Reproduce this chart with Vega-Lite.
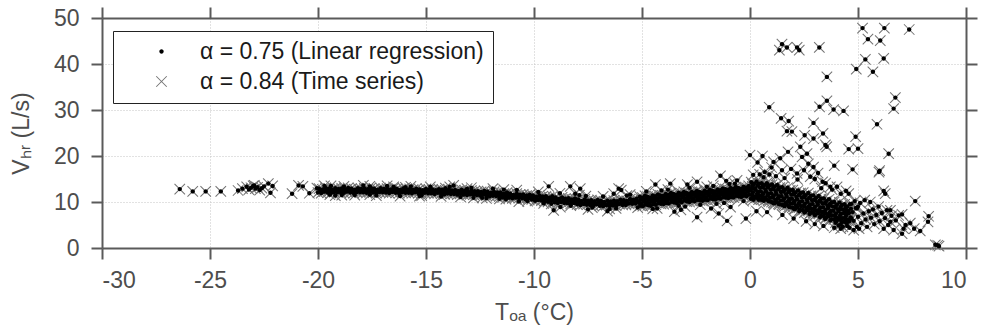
{
  "$schema": "https://vega.github.io/schema/vega-lite/v6.json",
  "width": 864,
  "height": 230,
  "autosize": "none",
  "padding": {"left": 102, "top": 18, "right": 16, "bottom": 87},
  "background": "white",
  "config": {
    "view": {"stroke": null},
    "font": "Liberation Sans",
    "axis": {
      "labelFont": "Liberation Sans", "labelFontSize": 23, "labelColor": "#4d4d4d",
      "titleFont": "Liberation Sans", "titleFontSize": 23, "titleColor": "#4d4d4d", "titleFontWeight": "normal",
      "domainColor": "#5a5a5a", "domainWidth": 2, "tickColor": "#5a5a5a", "tickWidth": 2, "tickSize": 11,
      "gridColor": "#c4c4c4", "gridDash": [1, 2], "gridWidth": 1
    },
    "legend": {
      "orient": "none", "legendX": 11, "legendY": 13,
      "labelFont": "Liberation Sans", "labelFontSize": 23, "labelColor": "#1a1a1a", "labelLimit": 0,
      "strokeColor": "#222", "fillColor": "white", "padding": 9, "rowPadding": 6,
      "symbolOffset": 28, "labelOffset": 27, "symbolStrokeWidth": 0, "symbolSize": 110
    }
  },
  "data": {"values": [
    {"t":-26.4,"v":12.8},{"t":-25.8,"v":12.3},{"t":-25.2,"v":12.3},{"t":-24.5,"v":12.3},{"t":-23.7,"v":12.5},{"t":-23.5,"v":12.9},{"t":-23.3,"v":13.3},{"t":-23.2,"v":12.7},{"t":-23.1,"v":13.1},{"t":-23.0,"v":13.5},{"t":-22.9,"v":12.9},{"t":-22.8,"v":13.2},{"t":-22.7,"v":12.6},{"t":-22.95,"v":13.6},{"t":-22.6,"v":13.0},{"t":-22.5,"v":13.4},{"t":-22.3,"v":14.0},{"t":-22.2,"v":12.0},{"t":-22.1,"v":13.5},{"t":-21.2,"v":11.8},{"t":-20.9,"v":13.6},{"t":-20.7,"v":13.4},{"t":-20.4,"v":11.9},{"t":-20.05,"v":13.0},
    {"t":-19.95,"v":12.9},{"t":-19.89,"v":12.5},{"t":-20.0,"v":12.05},{"t":-19.8,"v":12.75},{"t":-19.74,"v":12.35},{"t":-19.85,"v":11.95},{"t":-19.65,"v":13.05},{"t":-19.59,"v":12.6},{"t":-19.7,"v":12.25},{"t":-19.5,"v":12.9},{"t":-19.44,"v":12.5},{"t":-19.55,"v":12.05},{"t":-19.35,"v":12.7},{"t":-19.29,"v":12.3},{"t":-19.4,"v":11.95},{"t":-19.2,"v":13.0},{"t":-19.14,"v":12.6},{"t":-19.25,"v":12.15},{"t":-19.05,"v":12.85},{"t":-18.99,"v":12.4},{"t":-19.1,"v":12.1},
    {"t":-18.9,"v":12.95},{"t":-18.84,"v":12.55},{"t":-18.95,"v":12.1},{"t":-18.75,"v":12.8},{"t":-18.69,"v":12.4},{"t":-18.8,"v":12.0},{"t":-18.6,"v":13.05},{"t":-18.54,"v":12.6},{"t":-18.65,"v":12.25},{"t":-18.45,"v":12.9},{"t":-18.39,"v":12.5},{"t":-18.5,"v":12.05},{"t":-18.3,"v":12.7},{"t":-18.24,"v":12.3},{"t":-18.35,"v":11.95},{"t":-18.15,"v":13.0},{"t":-18.09,"v":12.6},{"t":-18.2,"v":12.15},{"t":-18.0,"v":12.85},{"t":-17.94,"v":12.4},{"t":-18.05,"v":12.1},
    {"t":-17.85,"v":12.95},{"t":-17.79,"v":12.55},{"t":-17.9,"v":12.1},{"t":-17.7,"v":12.8},{"t":-17.64,"v":12.4},{"t":-17.75,"v":12.0},{"t":-17.55,"v":13.05},{"t":-17.49,"v":12.6},{"t":-17.6,"v":12.25},{"t":-17.4,"v":12.9},{"t":-17.34,"v":12.5},{"t":-17.45,"v":12.05},{"t":-17.25,"v":12.7},{"t":-17.19,"v":12.3},{"t":-17.3,"v":11.95},{"t":-17.1,"v":13.0},{"t":-17.04,"v":12.6},{"t":-17.15,"v":12.15},{"t":-16.95,"v":12.85},{"t":-16.89,"v":12.4},{"t":-17.0,"v":12.1},
    {"t":-16.8,"v":12.9},{"t":-16.74,"v":12.5},{"t":-16.85,"v":12.05},{"t":-16.65,"v":12.75},{"t":-16.59,"v":12.35},{"t":-16.7,"v":11.95},{"t":-16.5,"v":13.0},{"t":-16.44,"v":12.55},{"t":-16.55,"v":12.2},{"t":-16.35,"v":12.85},{"t":-16.29,"v":12.45},{"t":-16.4,"v":12.0},{"t":-16.2,"v":12.65},{"t":-16.14,"v":12.25},{"t":-16.25,"v":11.9},{"t":-16.05,"v":12.95},{"t":-15.99,"v":12.55},{"t":-16.1,"v":12.1},
    {"t":-15.9,"v":12.75},{"t":-15.84,"v":12.3},{"t":-15.95,"v":12.0},{"t":-15.75,"v":12.85},{"t":-15.69,"v":12.45},{"t":-15.8,"v":12.0},{"t":-15.6,"v":12.7},{"t":-15.54,"v":12.3},{"t":-15.65,"v":11.9},{"t":-15.45,"v":12.9},{"t":-15.39,"v":12.45},{"t":-15.5,"v":12.1},{"t":-15.3,"v":12.75},{"t":-15.24,"v":12.35},{"t":-15.35,"v":11.9},{"t":-15.15,"v":12.55},{"t":-15.09,"v":12.15},{"t":-15.2,"v":11.8},{"t":-15.0,"v":12.85},{"t":-14.94,"v":12.45},{"t":-15.05,"v":12.0},
    {"t":-14.85,"v":12.65},{"t":-14.79,"v":12.2},{"t":-14.9,"v":11.9},{"t":-14.7,"v":12.75},{"t":-14.64,"v":12.35},{"t":-14.75,"v":11.9},{"t":-14.55,"v":12.55},{"t":-14.49,"v":12.15},{"t":-14.6,"v":11.75},{"t":-14.4,"v":12.8},{"t":-14.34,"v":12.35},{"t":-14.45,"v":12.0},{"t":-14.25,"v":12.65},{"t":-14.19,"v":12.25},{"t":-14.3,"v":11.8},{"t":-14.1,"v":12.4},{"t":-14.04,"v":12.0},{"t":-14.15,"v":11.65},{"t":-13.95,"v":12.7},{"t":-13.89,"v":12.3},{"t":-14.0,"v":11.85},
    {"t":-13.8,"v":12.5},{"t":-13.74,"v":12.05},{"t":-13.85,"v":11.75},{"t":-13.65,"v":12.6},{"t":-13.59,"v":12.2},{"t":-13.7,"v":11.75},{"t":-13.5,"v":12.4},{"t":-13.44,"v":12.0},{"t":-13.55,"v":11.6},{"t":-13.35,"v":12.65},{"t":-13.29,"v":12.2},{"t":-13.4,"v":11.85},{"t":-13.2,"v":12.45},{"t":-13.14,"v":12.05},{"t":-13.25,"v":11.6},{"t":-13.05,"v":12.25},{"t":-12.99,"v":11.85},{"t":-13.1,"v":11.5},{"t":-12.9,"v":12.5},{"t":-12.84,"v":12.1},{"t":-12.95,"v":11.65},
    {"t":-12.75,"v":12.35},{"t":-12.69,"v":11.9},{"t":-12.8,"v":11.6},{"t":-12.6,"v":12.35},{"t":-12.54,"v":11.95},{"t":-12.65,"v":11.5},{"t":-12.45,"v":12.2},{"t":-12.39,"v":11.8},{"t":-12.5,"v":11.4},{"t":-12.3,"v":12.4},{"t":-12.24,"v":11.95},{"t":-12.35,"v":11.6},{"t":-12.15,"v":12.25},{"t":-12.09,"v":11.85},{"t":-12.2,"v":11.4},{"t":-12.0,"v":12.0},{"t":-11.94,"v":11.6},{"t":-12.05,"v":11.25},
    {"t":-11.85,"v":12.2},{"t":-11.79,"v":11.8},{"t":-11.9,"v":11.35},{"t":-11.7,"v":12.05},{"t":-11.64,"v":11.6},{"t":-11.75,"v":11.3},{"t":-11.55,"v":12.05},{"t":-11.49,"v":11.65},{"t":-11.6,"v":11.2},{"t":-11.4,"v":11.8},{"t":-11.34,"v":11.4},{"t":-11.45,"v":11.0},{"t":-11.25,"v":12.05},{"t":-11.19,"v":11.6},{"t":-11.3,"v":11.25},{"t":-11.1,"v":11.8},{"t":-11.04,"v":11.4},{"t":-11.15,"v":10.95},
    {"t":-10.95,"v":11.55},{"t":-10.89,"v":11.15},{"t":-11.0,"v":10.8},{"t":-10.8,"v":11.8},{"t":-10.74,"v":11.4},{"t":-10.85,"v":10.95},{"t":-10.65,"v":11.6},{"t":-10.59,"v":11.15},{"t":-10.7,"v":10.85},{"t":-10.5,"v":11.65},{"t":-10.44,"v":11.25},{"t":-10.55,"v":10.8},{"t":-10.35,"v":11.4},{"t":-10.29,"v":11.0},{"t":-10.4,"v":10.6},{"t":-10.2,"v":11.6},{"t":-10.14,"v":11.15},{"t":-10.25,"v":10.8},{"t":-10.05,"v":11.4},{"t":-9.99,"v":11.0},{"t":-10.1,"v":10.55},
    {"t":-9.9,"v":11.15},{"t":-9.84,"v":10.65},{"t":-9.95,"v":10.25},{"t":-9.75,"v":11.45},{"t":-9.69,"v":10.95},{"t":-9.8,"v":10.45},{"t":-9.6,"v":11.2},{"t":-9.54,"v":10.7},{"t":-9.65,"v":10.3},{"t":-9.45,"v":11.25},{"t":-9.39,"v":10.75},{"t":-9.5,"v":10.2},{"t":-9.3,"v":11.0},{"t":-9.24,"v":10.55},{"t":-9.35,"v":10.05},{"t":-9.15,"v":11.25},{"t":-9.09,"v":10.7},{"t":-9.2,"v":10.3},{"t":-9.0,"v":11.0},{"t":-8.94,"v":10.5},{"t":-9.05,"v":9.95},
    {"t":-8.85,"v":10.7},{"t":-8.79,"v":10.2},{"t":-8.9,"v":9.8},{"t":-8.7,"v":11.0},{"t":-8.64,"v":10.5},{"t":-8.75,"v":10.0},{"t":-8.55,"v":10.7},{"t":-8.49,"v":10.2},{"t":-8.6,"v":9.8},{"t":-8.4,"v":10.8},{"t":-8.34,"v":10.3},{"t":-8.45,"v":9.75},{"t":-8.25,"v":10.55},{"t":-8.19,"v":10.1},{"t":-8.3,"v":9.6},{"t":-8.1,"v":10.75},{"t":-8.04,"v":10.2},{"t":-8.15,"v":9.8},{"t":-7.95,"v":10.55},{"t":-7.89,"v":10.05},{"t":-8.0,"v":9.5},
    {"t":-7.8,"v":10.25},{"t":-7.74,"v":9.75},{"t":-7.85,"v":9.35},{"t":-7.65,"v":10.55},{"t":-7.59,"v":10.05},{"t":-7.7,"v":9.55},{"t":-7.5,"v":10.3},{"t":-7.44,"v":9.8},{"t":-7.55,"v":9.4},{"t":-7.35,"v":10.4},{"t":-7.29,"v":9.9},{"t":-7.4,"v":9.35},{"t":-7.2,"v":10.15},{"t":-7.14,"v":9.7},{"t":-7.25,"v":9.2},{"t":-7.05,"v":10.45},{"t":-6.99,"v":9.9},{"t":-7.1,"v":9.5},
    {"t":-6.9,"v":10.25},{"t":-6.84,"v":9.75},{"t":-6.95,"v":9.2},{"t":-6.75,"v":10.0},{"t":-6.69,"v":9.5},{"t":-6.8,"v":9.1},{"t":-6.6,"v":10.3},{"t":-6.54,"v":9.8},{"t":-6.65,"v":9.3},{"t":-6.45,"v":10.1},{"t":-6.39,"v":9.6},{"t":-6.5,"v":9.2},{"t":-6.3,"v":10.3},{"t":-6.24,"v":9.8},{"t":-6.35,"v":9.25},{"t":-6.15,"v":10.15},{"t":-6.09,"v":9.7},{"t":-6.2,"v":9.2},
    {"t":-6.0,"v":10.5},{"t":-5.94,"v":9.95},{"t":-6.05,"v":9.55},{"t":-5.85,"v":10.4},{"t":-5.79,"v":9.9},{"t":-5.9,"v":9.35},{"t":-5.7,"v":10.25},{"t":-5.64,"v":9.75},{"t":-5.75,"v":9.35},{"t":-5.55,"v":10.65},{"t":-5.49,"v":10.15},{"t":-5.6,"v":9.65},{"t":-5.4,"v":10.5},{"t":-5.34,"v":10.0},{"t":-5.45,"v":9.6},{"t":-5.25,"v":10.7},{"t":-5.19,"v":10.2},{"t":-5.3,"v":9.65},
    {"t":-19.7,"v":13.5},{"t":-19.2,"v":11.4},{"t":-18.8,"v":13.4},{"t":-18.3,"v":11.5},{"t":-17.9,"v":13.6},{"t":-17.3,"v":11.4},{"t":-16.8,"v":13.5},{"t":-16.2,"v":11.3},{"t":-15.7,"v":13.4},{"t":-15.2,"v":11.4},{"t":-14.8,"v":13.3},{"t":-14.3,"v":11.2},{"t":-13.9,"v":13.3},{"t":-13.4,"v":11.1},{"t":-12.9,"v":13.1},{"t":-12.4,"v":10.9},{"t":-11.9,"v":12.9},{"t":-11.3,"v":10.6},{"t":-10.8,"v":12.6},{"t":-10.3,"v":10.2},{"t":-9.8,"v":12.2},{"t":-9.2,"v":9.6},{"t":-8.8,"v":11.9},{"t":-8.3,"v":9.2},{"t":-7.9,"v":11.5},{"t":-7.3,"v":8.8},{"t":-6.8,"v":11.2},{"t":-6.2,"v":8.6},{"t":-5.7,"v":11.4},{"t":-5.2,"v":8.8},{"t":-19.45,"v":11.6},{"t":-17.6,"v":11.6},{"t":-15.95,"v":13.2},{"t":-13.1,"v":12.9},{"t":-11.6,"v":10.7},{"t":-9.55,"v":9.7},{"t":-7.6,"v":11.3},{"t":-6.5,"v":8.5},{"t":-5.55,"v":11.6},{"t":-12.2,"v":10.8},
    {"t":-14.1,"v":13.0},{"t":-12.8,"v":10.9},{"t":-11.4,"v":12.7},{"t":-10.7,"v":10.1},{"t":-13.72,"v":13.6},{"t":-16.5,"v":13.3},{"t":-18.9,"v":11.5},{"t":-17.6,"v":13.4},{"t":-15.3,"v":11.3},{"t":-19.4,"v":13.5},
    {"t":-9.32,"v":13.4},{"t":-9.09,"v":8.2},{"t":-8.78,"v":8.9},{"t":-8.32,"v":13.4},{"t":-7.86,"v":12.9},{"t":-8.09,"v":11.8},{"t":-6.08,"v":12.9},{"t":-5.96,"v":12.6},{"t":-6.31,"v":11.8},{"t":-7.5,"v":8.4},{"t":-6.6,"v":8.0},
    {"t":-5.1,"v":11.15},{"t":-5.05,"v":10.5},{"t":-5.14,"v":9.85},{"t":-5.08,"v":9.2},{"t":-4.98,"v":10.95},{"t":-4.93,"v":10.3},{"t":-5.02,"v":9.7},{"t":-4.96,"v":9.1},{"t":-4.86,"v":11.35},{"t":-4.81,"v":10.7},{"t":-4.9,"v":10.1},{"t":-4.84,"v":9.45},{"t":-4.74,"v":11.15},{"t":-4.69,"v":10.5},{"t":-4.78,"v":9.9},{"t":-4.72,"v":9.3},{"t":-4.62,"v":10.95},{"t":-4.57,"v":10.35},{"t":-4.66,"v":9.7},{"t":-4.6,"v":9.2},
    {"t":-4.5,"v":11.45},{"t":-4.45,"v":10.8},{"t":-4.54,"v":10.15},{"t":-4.48,"v":9.5},{"t":-4.38,"v":11.25},{"t":-4.33,"v":10.6},{"t":-4.42,"v":10.0},{"t":-4.36,"v":9.4},{"t":-4.26,"v":11.65},{"t":-4.21,"v":11.0},{"t":-4.3,"v":10.4},{"t":-4.24,"v":9.75},{"t":-4.14,"v":11.45},{"t":-4.09,"v":10.8},{"t":-4.18,"v":10.2},{"t":-4.12,"v":9.6},{"t":-4.02,"v":11.3},{"t":-3.97,"v":10.7},{"t":-4.06,"v":10.05},{"t":-4.0,"v":9.55},
    {"t":-3.9,"v":11.75},{"t":-3.85,"v":11.1},{"t":-3.94,"v":10.45},{"t":-3.88,"v":9.8},{"t":-3.78,"v":11.55},{"t":-3.73,"v":10.9},{"t":-3.82,"v":10.3},{"t":-3.76,"v":9.7},{"t":-3.66,"v":11.95},{"t":-3.61,"v":11.3},{"t":-3.7,"v":10.7},{"t":-3.64,"v":10.05},{"t":-3.54,"v":11.75},{"t":-3.49,"v":11.1},{"t":-3.58,"v":10.5},{"t":-3.52,"v":9.9},{"t":-3.42,"v":11.55},{"t":-3.37,"v":10.95},{"t":-3.46,"v":10.3},{"t":-3.4,"v":9.8},
    {"t":-3.3,"v":12.0},{"t":-3.25,"v":11.35},{"t":-3.34,"v":10.7},{"t":-3.28,"v":10.05},{"t":-3.18,"v":11.8},{"t":-3.13,"v":11.15},{"t":-3.22,"v":10.55},{"t":-3.16,"v":9.95},{"t":-3.06,"v":12.2},{"t":-3.01,"v":11.55},{"t":-3.1,"v":10.95},{"t":-3.04,"v":10.3},{"t":-2.94,"v":11.95},{"t":-2.89,"v":11.3},{"t":-2.98,"v":10.7},{"t":-2.92,"v":10.1},{"t":-2.82,"v":11.75},{"t":-2.77,"v":11.15},{"t":-2.86,"v":10.5},{"t":-2.8,"v":10.0},
    {"t":-2.7,"v":12.2},{"t":-2.65,"v":11.55},{"t":-2.74,"v":10.9},{"t":-2.68,"v":10.25},{"t":-2.58,"v":12.0},{"t":-2.53,"v":11.35},{"t":-2.62,"v":10.75},{"t":-2.56,"v":10.15},{"t":-2.46,"v":12.4},{"t":-2.41,"v":11.75},{"t":-2.5,"v":11.15},{"t":-2.44,"v":10.5},{"t":-2.34,"v":12.2},{"t":-2.29,"v":11.55},{"t":-2.38,"v":10.95},{"t":-2.32,"v":10.35},{"t":-2.22,"v":12.0},{"t":-2.17,"v":11.4},{"t":-2.26,"v":10.75},{"t":-2.2,"v":10.25},
    {"t":-2.1,"v":12.45},{"t":-2.05,"v":11.8},{"t":-2.14,"v":11.15},{"t":-2.08,"v":10.5},{"t":-1.98,"v":12.25},{"t":-1.93,"v":11.6},{"t":-2.02,"v":11.0},{"t":-1.96,"v":10.4},{"t":-1.86,"v":12.65},{"t":-1.81,"v":12.0},{"t":-1.9,"v":11.4},{"t":-1.84,"v":10.75},{"t":-1.74,"v":12.45},{"t":-1.69,"v":11.8},{"t":-1.78,"v":11.2},{"t":-1.72,"v":10.6},{"t":-1.62,"v":12.3},{"t":-1.57,"v":11.7},{"t":-1.66,"v":11.05},{"t":-1.6,"v":10.55},
    {"t":-1.5,"v":12.75},{"t":-1.45,"v":12.1},{"t":-1.54,"v":11.45},{"t":-1.48,"v":10.8},{"t":-1.38,"v":12.55},{"t":-1.33,"v":11.9},{"t":-1.42,"v":11.3},{"t":-1.36,"v":10.7},{"t":-1.26,"v":12.95},{"t":-1.21,"v":12.3},{"t":-1.3,"v":11.7},{"t":-1.24,"v":11.05},{"t":-1.14,"v":12.8},{"t":-1.09,"v":12.15},{"t":-1.18,"v":11.55},{"t":-1.12,"v":10.95},{"t":-1.02,"v":12.6},{"t":-0.97,"v":12.0},{"t":-1.06,"v":11.35},{"t":-1.0,"v":10.85},
    {"t":-0.9,"v":13.05},{"t":-0.85,"v":12.4},{"t":-0.94,"v":11.75},{"t":-0.88,"v":11.1},{"t":-0.78,"v":12.85},{"t":-0.73,"v":12.2},{"t":-0.82,"v":11.6},{"t":-0.76,"v":11.0},{"t":-0.66,"v":13.25},{"t":-0.61,"v":12.6},{"t":-0.7,"v":12.0},{"t":-0.64,"v":11.35},{"t":-0.54,"v":13.05},{"t":-0.49,"v":12.4},{"t":-0.58,"v":11.8},{"t":-0.52,"v":11.2},{"t":-0.42,"v":12.85},{"t":-0.37,"v":12.25},{"t":-0.46,"v":11.6},{"t":-0.4,"v":11.1},
    {"t":-0.3,"v":13.3},{"t":-0.25,"v":12.65},{"t":-0.34,"v":12.0},{"t":-0.28,"v":11.35},{"t":-0.18,"v":13.1},{"t":-0.13,"v":12.45},{"t":-0.22,"v":11.85},{"t":-0.16,"v":11.25},{"t":-0.06,"v":13.5},{"t":-0.01,"v":12.85},{"t":-0.1,"v":12.25},{"t":-0.04,"v":11.6},
    {"t":-4.8,"v":12.3},{"t":-4.3,"v":8.6},{"t":-3.8,"v":12.7},{"t":-3.3,"v":9.2},{"t":-2.8,"v":13.1},{"t":-2.3,"v":9.4},{"t":-1.7,"v":13.5},{"t":-1.2,"v":9.8},{"t":-0.7,"v":14.0},{"t":-0.3,"v":10.2},{"t":-4.1,"v":12.5},{"t":-3.0,"v":9.0},{"t":-2.0,"v":13.3},{"t":-0.95,"v":13.9},{"t":-1.55,"v":9.6},
    {"t":-4.38,"v":13.8},{"t":-3.69,"v":14.0},{"t":-2.45,"v":14.4},{"t":-1.37,"v":15.7},{"t":-0.6,"v":14.7},{"t":-2.45,"v":6.7},{"t":-1.45,"v":7.5},{"t":-1.06,"v":5.9},{"t":-0.19,"v":6.4},{"t":-3.2,"v":8.3},{"t":-4.5,"v":8.5},{"t":-1.8,"v":8.6},{"t":-0.9,"v":8.9},{"t":-2.9,"v":13.8},{"t":-1.1,"v":14.6},{"t":-3.5,"v":7.9},
    {"t":0.06,"v":14.3},{"t":0.11,"v":13.4},{"t":0.02,"v":12.5},{"t":0.09,"v":11.6},{"t":0.04,"v":10.7},{"t":0.18,"v":13.9},{"t":0.23,"v":13.0},{"t":0.14,"v":12.1},{"t":0.21,"v":11.2},{"t":0.16,"v":10.5},{"t":0.3,"v":14.45},{"t":0.35,"v":13.55},{"t":0.26,"v":12.65},{"t":0.33,"v":11.75},{"t":0.28,"v":10.95},{"t":0.42,"v":14.0},{"t":0.47,"v":13.1},{"t":0.38,"v":12.2},{"t":0.45,"v":11.3},{"t":0.4,"v":10.5},
    {"t":0.54,"v":14.1},{"t":0.59,"v":13.2},{"t":0.5,"v":12.3},{"t":0.57,"v":11.4},{"t":0.52,"v":10.5},{"t":0.66,"v":13.65},{"t":0.71,"v":12.75},{"t":0.62,"v":11.85},{"t":0.69,"v":10.95},{"t":0.64,"v":10.25},{"t":0.78,"v":14.1},{"t":0.83,"v":13.2},{"t":0.74,"v":12.3},{"t":0.81,"v":11.4},{"t":0.76,"v":10.6},{"t":0.9,"v":13.6},{"t":0.95,"v":12.7},{"t":0.86,"v":11.8},{"t":0.93,"v":10.9},{"t":0.88,"v":10.1},
    {"t":1.02,"v":13.8},{"t":1.07,"v":12.85},{"t":0.98,"v":11.9},{"t":1.05,"v":10.95},{"t":1.0,"v":10.0},{"t":1.14,"v":13.3},{"t":1.19,"v":12.35},{"t":1.1,"v":11.4},{"t":1.17,"v":10.45},{"t":1.12,"v":9.7},{"t":1.26,"v":13.7},{"t":1.31,"v":12.75},{"t":1.22,"v":11.8},{"t":1.29,"v":10.85},{"t":1.24,"v":10.0},{"t":1.38,"v":13.15},{"t":1.43,"v":12.2},{"t":1.34,"v":11.25},{"t":1.41,"v":10.3},{"t":1.36,"v":9.45},
    {"t":1.5,"v":13.2},{"t":1.55,"v":12.25},{"t":1.46,"v":11.3},{"t":1.53,"v":10.35},{"t":1.48,"v":9.4},{"t":1.62,"v":12.65},{"t":1.67,"v":11.7},{"t":1.58,"v":10.75},{"t":1.65,"v":9.8},{"t":1.6,"v":9.05},{"t":1.74,"v":13.1},{"t":1.79,"v":12.15},{"t":1.7,"v":11.2},{"t":1.77,"v":10.25},{"t":1.72,"v":9.4},{"t":1.86,"v":12.55},{"t":1.91,"v":11.6},{"t":1.82,"v":10.65},{"t":1.89,"v":9.7},{"t":1.84,"v":8.85},
    {"t":1.98,"v":12.6},{"t":2.03,"v":11.65},{"t":1.94,"v":10.7},{"t":2.01,"v":9.75},{"t":1.96,"v":8.8},{"t":2.1,"v":12.05},{"t":2.15,"v":11.1},{"t":2.06,"v":10.15},{"t":2.13,"v":9.2},{"t":2.08,"v":8.45},{"t":2.22,"v":12.5},{"t":2.27,"v":11.55},{"t":2.18,"v":10.6},{"t":2.25,"v":9.65},{"t":2.2,"v":8.8},{"t":2.34,"v":11.95},{"t":2.39,"v":11.0},{"t":2.3,"v":10.05},{"t":2.37,"v":9.1},{"t":2.32,"v":8.25},
    {"t":2.46,"v":12.05},{"t":2.51,"v":11.1},{"t":2.42,"v":10.15},{"t":2.49,"v":9.2},{"t":2.44,"v":8.25},{"t":2.58,"v":11.5},{"t":2.63,"v":10.55},{"t":2.54,"v":9.6},{"t":2.61,"v":8.65},{"t":2.56,"v":7.9},{"t":2.7,"v":11.95},{"t":2.75,"v":11.0},{"t":2.66,"v":10.05},{"t":2.73,"v":9.1},{"t":2.68,"v":8.25},{"t":2.82,"v":11.35},{"t":2.87,"v":10.4},{"t":2.78,"v":9.45},{"t":2.85,"v":8.5},{"t":2.8,"v":7.65},
    {"t":2.94,"v":11.45},{"t":2.99,"v":10.5},{"t":2.9,"v":9.55},{"t":2.97,"v":8.6},{"t":2.92,"v":7.65},{"t":3.06,"v":10.9},{"t":3.11,"v":9.95},{"t":3.02,"v":9.0},{"t":3.09,"v":8.05},{"t":3.04,"v":7.3},{"t":3.18,"v":11.3},{"t":3.23,"v":10.35},{"t":3.14,"v":9.4},{"t":3.21,"v":8.45},{"t":3.16,"v":7.6},{"t":3.3,"v":10.7},{"t":3.35,"v":9.75},{"t":3.26,"v":8.8},{"t":3.33,"v":7.85},{"t":3.28,"v":7.0},
    {"t":3.42,"v":10.75},{"t":3.47,"v":9.8},{"t":3.38,"v":8.85},{"t":3.45,"v":7.9},{"t":3.4,"v":6.95},{"t":3.54,"v":10.2},{"t":3.59,"v":9.25},{"t":3.5,"v":8.3},{"t":3.57,"v":7.35},{"t":3.52,"v":6.6},{"t":3.66,"v":10.6},{"t":3.71,"v":9.65},{"t":3.62,"v":8.7},{"t":3.69,"v":7.75},{"t":3.64,"v":6.9},{"t":3.78,"v":9.95},{"t":3.83,"v":9.0},{"t":3.74,"v":8.05},{"t":3.81,"v":7.1},{"t":3.76,"v":6.25},
    {"t":3.9,"v":10.0},{"t":3.95,"v":9.05},{"t":3.86,"v":8.1},{"t":3.93,"v":7.15},{"t":3.88,"v":6.2},{"t":4.02,"v":9.4},{"t":4.07,"v":8.45},{"t":3.98,"v":7.5},{"t":4.05,"v":6.55},{"t":4.0,"v":5.8},{"t":4.14,"v":9.9},{"t":4.19,"v":8.95},{"t":4.1,"v":8.0},{"t":4.17,"v":7.05},{"t":4.12,"v":6.2},{"t":4.26,"v":9.35},{"t":4.31,"v":8.4},{"t":4.22,"v":7.45},{"t":4.29,"v":6.5},{"t":4.24,"v":5.65},
    {"t":4.38,"v":9.5},{"t":4.43,"v":8.55},{"t":4.34,"v":7.6},{"t":4.41,"v":6.65},{"t":4.36,"v":5.7},{"t":4.5,"v":9.0},{"t":4.55,"v":8.05},{"t":4.46,"v":7.1},{"t":4.53,"v":6.15},{"t":4.48,"v":5.4},{"t":4.62,"v":9.5},{"t":4.67,"v":8.55},{"t":4.58,"v":7.6},{"t":4.65,"v":6.65},{"t":4.6,"v":5.8},
    {"t":0.12,"v":13.9},{"t":0.12,"v":12.9},{"t":0.12,"v":11.2},{"t":0.36,"v":13.7},{"t":0.36,"v":12.0},{"t":0.36,"v":10.9},{"t":0.6,"v":13.6},{"t":0.6,"v":11.8},{"t":0.6,"v":10.8},{"t":0.84,"v":13.5},{"t":0.84,"v":11.7},{"t":0.84,"v":10.3},{"t":1.08,"v":13.2},{"t":1.08,"v":11.3},{"t":1.08,"v":9.8},{"t":1.32,"v":12.9},{"t":1.32,"v":11.0},{"t":1.32,"v":9.6},{"t":1.56,"v":12.6},{"t":1.56,"v":10.6},{"t":1.56,"v":9.3},{"t":1.8,"v":12.3},{"t":1.8,"v":10.2},{"t":1.8,"v":9.0},
    {"t":2.04,"v":11.9},{"t":2.04,"v":9.9},{"t":2.04,"v":8.5},{"t":2.28,"v":11.6},{"t":2.28,"v":9.6},{"t":2.28,"v":8.0},{"t":2.52,"v":11.3},{"t":2.52,"v":9.1},{"t":2.52,"v":7.7},{"t":2.76,"v":10.9},{"t":2.76,"v":8.8},{"t":2.76,"v":7.4},{"t":3.0,"v":10.5},{"t":3.0,"v":8.3},{"t":3.0,"v":7.1},{"t":3.24,"v":10.1},{"t":3.24,"v":7.9},{"t":3.24,"v":6.7},{"t":3.48,"v":9.7},{"t":3.48,"v":7.6},{"t":3.48,"v":6.3},{"t":3.72,"v":9.3},{"t":3.72,"v":7.2},{"t":3.72,"v":6.0},{"t":3.96,"v":8.8},{"t":3.96,"v":6.8},{"t":3.96,"v":5.5},{"t":4.2,"v":8.5},{"t":4.2,"v":6.3},{"t":4.2,"v":5.1},{"t":4.44,"v":8.9},{"t":4.44,"v":7.9},{"t":4.44,"v":6.1},{"t":4.3,"v":4.6},{"t":4.5,"v":4.8},{"t":4.1,"v":4.9},
    {"t":4.7,"v":9.6},{"t":4.75,"v":7.8},{"t":4.8,"v":5.9},{"t":4.9,"v":8.7},{"t":4.95,"v":4.6},{"t":5.0,"v":6.8},{"t":5.1,"v":9.8},{"t":5.15,"v":5.4},{"t":5.25,"v":7.5},{"t":5.31,"v":10.4},{"t":5.35,"v":6.2},{"t":5.42,"v":4.6},{"t":5.5,"v":8.0},{"t":5.57,"v":10.0},{"t":5.6,"v":6.6},{"t":5.69,"v":8.4},{"t":5.75,"v":5.2},{"t":5.85,"v":7.2},{"t":5.95,"v":9.0},{"t":6.0,"v":5.8},{"t":6.1,"v":7.6},{"t":6.19,"v":4.2},{"t":6.25,"v":6.5},{"t":6.34,"v":8.2},{"t":6.4,"v":5.0},{"t":6.5,"v":5.7},{"t":6.55,"v":7.0},{"t":6.65,"v":3.9},{"t":6.75,"v":6.0},{"t":6.88,"v":7.1},{"t":7.04,"v":3.1},{"t":7.04,"v":7.3},{"t":7.11,"v":4.2},{"t":7.2,"v":5.0},{"t":7.42,"v":5.4},{"t":7.6,"v":4.2},{"t":7.88,"v":3.7},{"t":6.5,"v":8.2},
    {"t":4.6,"v":4.4},{"t":4.7,"v":6.4},{"t":4.85,"v":10.2},{"t":5.0,"v":9.0},{"t":4.8,"v":3.9},{"t":5.05,"v":4.2},{"t":4.57,"v":11.8},{"t":4.41,"v":7.5},{"t":4.95,"v":8.6},
    {"t":5.21,"v":47.8},{"t":6.22,"v":47.8},{"t":7.37,"v":47.5},{"t":5.46,"v":45.4},{"t":6.03,"v":45.1},{"t":5.34,"v":41.0},{"t":6.19,"v":41.2},{"t":4.92,"v":38.9},{"t":5.69,"v":38.3},{"t":1.48,"v":44.3},{"t":1.36,"v":43.0},{"t":1.71,"v":43.6},{"t":2.18,"v":43.6},{"t":2.28,"v":43.0},{"t":3.21,"v":43.6},{"t":3.56,"v":37.2},{"t":0.89,"v":30.6},{"t":3.56,"v":32.0},{"t":3.22,"v":30.7},{"t":3.87,"v":30.1},{"t":4.33,"v":29.8},{"t":6.73,"v":32.7},{"t":6.65,"v":30.3},{"t":1.44,"v":28.2},{"t":1.79,"v":27.6},{"t":1.71,"v":25.4},{"t":1.94,"v":25.3},{"t":2.94,"v":27.2},{"t":2.53,"v":24.5},{"t":3.38,"v":24.9},{"t":2.94,"v":23.8},{"t":3.49,"v":22.4},{"t":3.55,"v":22.0},{"t":4.89,"v":24.2},{"t":4.57,"v":21.5},{"t":5.0,"v":21.6},{"t":5.88,"v":26.9},{"t":6.42,"v":20.5},
    {"t":0.0,"v":20.2},{"t":0.58,"v":20.0},{"t":0.35,"v":18.6},{"t":1.09,"v":18.7},{"t":1.4,"v":19.5},{"t":1.76,"v":20.9},{"t":2.33,"v":22.0},{"t":2.41,"v":19.8},{"t":2.64,"v":20.5},{"t":2.94,"v":17.6},{"t":3.9,"v":17.9},{"t":4.75,"v":17.1},{"t":6.0,"v":16.8},{"t":5.97,"v":16.5},{"t":6.19,"v":12.4},{"t":6.26,"v":11.8},{"t":7.65,"v":10.2},{"t":8.27,"v":6.9},{"t":8.24,"v":5.7},{"t":8.69,"v":0.6},{"t":8.58,"v":0.7},{"t":8.75,"v":0.4},
    {"t":3.72,"v":13.3},{"t":4.03,"v":13.3},{"t":3.36,"v":14.4},{"t":2.79,"v":15.5},{"t":2.18,"v":16.2},{"t":1.48,"v":16.9},{"t":0.68,"v":16.5},{"t":0.63,"v":15.4},
    {"t":0.9,"v":16.0},{"t":1.2,"v":15.6},{"t":1.6,"v":15.2},{"t":1.9,"v":17.2},{"t":2.2,"v":14.9},{"t":2.5,"v":16.9},{"t":2.7,"v":18.3},{"t":3.0,"v":15.0},{"t":3.15,"v":16.3},{"t":3.3,"v":13.0},{"t":3.5,"v":14.1},{"t":3.8,"v":12.7},{"t":4.2,"v":11.8},{"t":4.45,"v":12.4},{"t":1.0,"v":17.5},{"t":0.45,"v":16.0},{"t":0.15,"v":15.9},
    {"t":0.79,"v":7.8},{"t":2.02,"v":6.4},{"t":1.5,"v":7.2},{"t":0.3,"v":8.0},{"t":2.6,"v":5.8},{"t":3.0,"v":5.2},{"t":3.4,"v":4.8},{"t":3.9,"v":4.4},{"t":4.2,"v":4.2}
  ]},
  "layer": [
    {
      "mark": {"type": "point", "filled": true, "size": 110, "opacity": 1},
      "encoding": {
        "x": {"field": "t", "type": "quantitative",
              "scale": {"domain": [-30, 10], "nice": false, "zero": false},
              "axis": {"orient": "bottom", "values": [-30, -25, -20, -15, -10, -5, 0, 5, 10], "labelExpr": "datum.value",
                       "title": "Tₒₐ (°C)", "labelPadding": 10, "titlePadding": 9, "grid": true}},
        "y": {"field": "v", "type": "quantitative",
              "scale": {"domain": [0, 50], "nice": false},
              "axis": {"orient": "left", "values": [0, 10, 20, 30, 40, 50], "labelExpr": "datum.value",
                       "title": "Vₕᵣ (L/s)", "labelPadding": 12, "titlePadding": 20, "grid": true}},
        "color": {"datum": "α = 0.84 (Time series)",
                  "scale": {"domain": ["α = 0.75 (Linear regression)", "α = 0.84 (Time series)"], "range": ["#000000", "#737373"]},
                  "legend": {"title": null}},
        "shape": {"datum": "α = 0.84 (Time series)",
                  "scale": {"domain": ["α = 0.75 (Linear regression)", "α = 0.84 (Time series)"],
                            "range": ["M0.42,0A0.42,0.42,0,1,1,-0.42,0A0.42,0.42,0,1,1,0.42,0Z", "M-0.93,-1.07L1.07,0.93L0.93,1.07L-1.07,-0.93ZM1.07,-0.93L-0.93,1.07L-1.07,0.93L0.93,-1.07Z"]},
                  "legend": {"title": null}}
      }
    },
    {
      "mark": {"type": "point", "filled": true, "size": 110, "opacity": 1},
      "encoding": {
        "x": {"field": "t", "type": "quantitative",
              "axis": {"orient": "top", "values": [-30, -25, -20, -15, -10, -5, 0, 5, 10], "labels": false, "title": null, "grid": false}},
        "y": {"field": "v", "type": "quantitative",
              "axis": {"orient": "right", "values": [0, 10, 20, 30, 40, 50], "labels": false, "title": null, "grid": false}},
        "color": {"datum": "α = 0.75 (Linear regression)", "legend": {"title": null}},
        "shape": {"datum": "α = 0.75 (Linear regression)", "legend": {"title": null}}
      }
    }
  ]
}
